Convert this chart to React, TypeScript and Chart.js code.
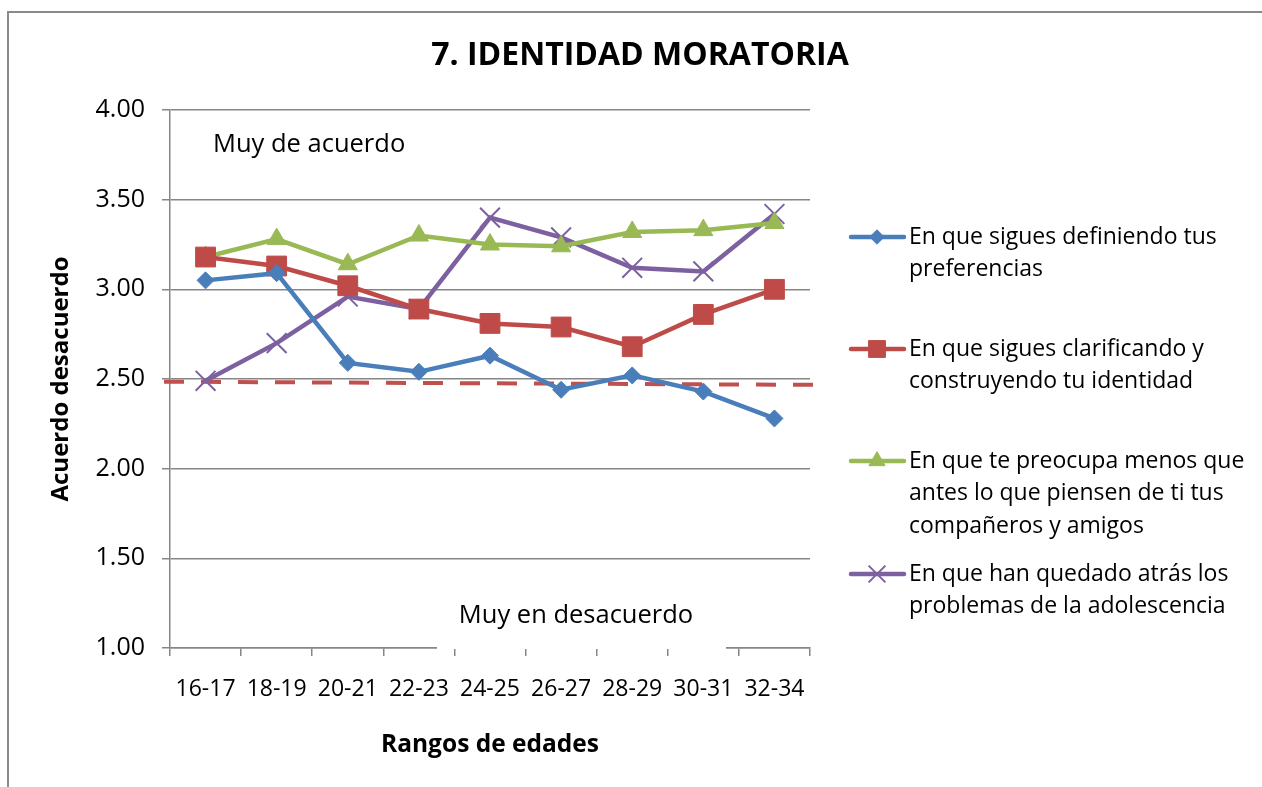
import { useEffect, useRef } from 'react';
import { Chart, registerables } from 'chart.js';
import { drawPoint } from 'chart.js/helpers';

Chart.register(...registerables);

const chartTitle = '7. IDENTIDAD MORATORIA';
const categories = ['16-17', '18-19', '20-21', '22-23', '24-25', '26-27', '28-29', '30-31', '32-34'];
const definiendo = [3.05, 3.09, 2.59, 2.54, 2.63, 2.44, 2.52, 2.43, 2.28];
const clarificando = [3.18, 3.13, 3.02, 2.89, 2.81, 2.79, 2.68, 2.86, 3.0];
const preocupa = [3.18, 3.28, 3.14, 3.3, 3.25, 3.24, 3.32, 3.33, 3.37];
const atras = [2.49, 2.7, 2.96, 2.89, 3.4, 3.29, 3.12, 3.1, 3.42];
const seriesLabels = [
  ['En que sigues definiendo tus', 'preferencias'],
  ['En que sigues clarificando y', 'construyendo tu identidad'],
  ['En que te preocupa menos que', 'antes lo que piensen de ti tus', 'compañeros y amigos'],
  ['En que han quedado atrás los', 'problemas de la adolescencia'],
];
const referenceLine = [2.485, 2.467];
const yMin = 1;
const yMax = 4;
const yStep = 0.5;
const yAxisTitle = 'Acuerdo desacuerdo';
const xAxisTitle = 'Rangos de edades';
const topNote = 'Muy de acuerdo';
const bottomNote = 'Muy en desacuerdo';

const FONT = '"Open Sans", sans-serif';
const GRID = '#868686';
const COLORS = ['#4A7EBB', '#BE4B48', '#98B954', '#7D60A0'];
const STYLES = [
  { pointStyle: 'rectRot', radius: 8.5, borderWidth: 1 },
  { pointStyle: 'rect', radius: 14, borderWidth: 1 },
  { pointStyle: 'triangle', radius: 11, borderWidth: 1 },
  { pointStyle: 'crossRot', radius: 14, borderWidth: 2 },
];

const decorPlugin = {
  id: 'decor',
  beforeDraw(chart: any) {
    const ctx = chart.ctx;
    ctx.save();
    ctx.fillStyle = '#ffffff';
    ctx.fillRect(0, 0, chart.width, chart.height);
    ctx.strokeStyle = '#8a8a8a';
    ctx.lineWidth = 2;
    ctx.strokeRect(8, 12, chart.width + 50, chart.height + 50);
    ctx.restore();
  },
  beforeDatasetsDraw(chart: any) {
    const ctx = chart.ctx;
    const y = chart.scales.y;
    const a = chart.chartArea;
    ctx.save();
    ctx.strokeStyle = '#C0504D';
    ctx.lineWidth = 4;
    ctx.setLineDash([20, 17]);
    ctx.beginPath();
    ctx.moveTo(a.left - 6, y.getPixelForValue(referenceLine[0]));
    ctx.lineTo(a.right + 13, y.getPixelForValue(referenceLine[1]));
    ctx.stroke();
    ctx.restore();
  },
  afterDraw(chart: any) {
    const ctx = chart.ctx;
    const a = chart.chartArea;
    ctx.save();
    // title
    ctx.fillStyle = '#000';
    ctx.textAlign = 'center';
    ctx.textBaseline = 'middle';
    ctx.font = `bold 32px ${FONT}`;
    ctx.fillText(chartTitle, 640, 56);
    // notes
    ctx.font = `25.5px ${FONT}`;
    ctx.textAlign = 'left';
    ctx.fillText(topNote, a.left + 43, 145);
    ctx.fillStyle = '#ffffff';
    ctx.fillRect(437, 592, 289, a.bottom + 1 - 592);
    ctx.fillStyle = '#000';
    ctx.textAlign = 'center';
    ctx.fillText(bottomNote, 576, 616);
    // legend
    const rows = [237, 349, 461, 574];
    const lh = 32.5;
    ctx.font = `23px ${FONT}`;
    ctx.textAlign = 'left';
    seriesLabels.forEach((lines, i) => {
      const yy = rows[i];
      ctx.strokeStyle = COLORS[i];
      ctx.fillStyle = COLORS[i];
      ctx.lineWidth = 4.5;
      ctx.setLineDash([]);
      ctx.lineCap = 'round';
      ctx.beginPath();
      ctx.moveTo(851, yy);
      ctx.lineTo(904, yy);
      ctx.stroke();
      ctx.lineCap = 'butt';
      const st = STYLES[i];
      ctx.lineWidth = st.borderWidth;
      drawPoint(ctx, { pointStyle: st.pointStyle as any, radius: st.radius * 0.85, rotation: 0, borderWidth: st.borderWidth }, 877, yy);
      ctx.fillStyle = '#000';
      lines.forEach((t, j) => ctx.fillText(t, 909, yy + j * lh));
    });
    ctx.restore();
  },
};

export default function App() {
  const ref = useRef<HTMLCanvasElement>(null);
  useEffect(() => {
    if (!ref.current) return;
    const mk = (data: number[], i: number) => ({
      label: seriesLabels[i].join(' '),
      data,
      borderColor: COLORS[i],
      backgroundColor: COLORS[i],
      pointBackgroundColor: COLORS[i],
      pointBorderColor: COLORS[i],
      borderWidth: 4.5,
      pointStyle: STYLES[i].pointStyle as any,
      pointRadius: STYLES[i].radius,
      pointBorderWidth: STYLES[i].borderWidth,
      pointHoverRadius: STYLES[i].radius,
      tension: 0,
      clip: false as any,
    });
    const chart = new Chart(ref.current, {
      type: 'line',
      data: {
        labels: categories,
        datasets: [mk(definiendo, 0), mk(clarificando, 1), mk(preocupa, 2), mk(atras, 3)],
      },
      options: {
        animation: false,
        responsive: false,
        events: [],
        layout: { padding: { top: 110, left: 0, right: 452, bottom: 0 } },
        plugins: { legend: { display: false }, title: { display: false }, tooltip: { enabled: false } },
        scales: {
          x: {
            type: 'category',
            offset: true,
            afterFit(s: any) { s.height = 139; },
            grid: { offset: true, drawOnChartArea: false, drawTicks: true, tickLength: 8, color: GRID, lineWidth: 1.5 },
            border: { display: true, color: GRID, width: 1.5 },
            ticks: { color: '#000', font: { family: FONT, size: 23 }, padding: 20, maxRotation: 0 },
            title: { display: true, text: xAxisTitle, color: '#000', font: { family: FONT, size: 24.5, weight: 'bold' }, padding: { top: 0, bottom: 27 } },
          },
          y: {
            min: yMin,
            max: yMax,
            afterFit(s: any) { s.width = 170; },
            grid: { color: GRID, lineWidth: 1.5, tickLength: 8, drawTicks: true },
            border: { display: true, color: GRID, width: 1.5 },
            ticks: { stepSize: yStep, color: '#000', font: { family: FONT, size: 25 }, padding: 17, callback: (v: any) => Number(v).toFixed(2) },
            title: { display: true, text: yAxisTitle, color: '#000', font: { family: FONT, size: 24, weight: 'bold' }, padding: { top: 47, bottom: 0 } },
          },
        },
      },
      plugins: [decorPlugin],
    });
    return () => chart.destroy();
  }, []);
  return (
    <div style={{ position: 'fixed', left: 0, top: 0, width: 1262, height: 787, overflow: 'hidden' }}>
      <canvas ref={ref} width={1262} height={787} style={{ display: 'block' }} />
    </div>
  );
}
